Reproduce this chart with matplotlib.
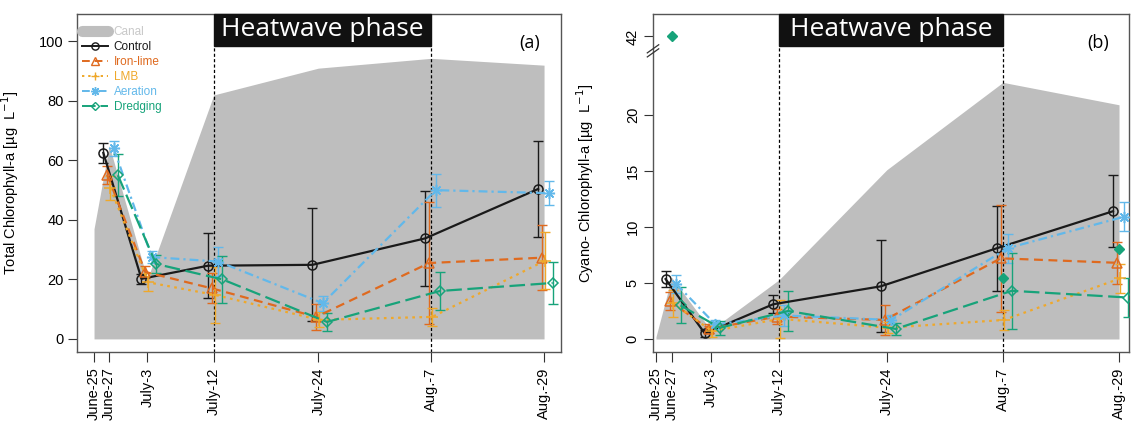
import numpy as np
import matplotlib
matplotlib.use("Agg")
import matplotlib.pyplot as plt
from matplotlib.lines import Line2D
from matplotlib.patches import Rectangle
import matplotlib.transforms as mtransforms

plt.rcParams['font.family'] = ['Liberation Sans', 'DejaVu Sans']

# sampling dates and their positions on the x axis
date_labels = ["June-25", "June-27", "July-3", "July-12", "July-24", "Aug.-7", "Aug.-29"]
date_pos = [0, 2.2, 7.7, 17.3, 32.4, 48.7, 65]

# canal (background) values at every date
canal_total = [37, 65, 20, 82, 91, 94.3, 92]
canal_cyano = [0.2, 5.5, 0.8, 5.3, 15.1, 22.9, 20.9]

# treatments are sampled from June-27 on (dates 1..6)
series = ["Control", "Iron-lime", "LMB", "Aeration", "Dredging"]

total_mean = {
    "Control":   [62.5, 20.2, 24.6, 24.9, 33.8, 50.4],
    "Iron-lime": [55.2, 22.5, 17.0, 7.4, 25.5, 27.3],
    "LMB":       [50.7, 19.0, 14.8, 6.4, 7.4, 26.3],
    "Aeration":  [64.0, 27.5, 26.0, 12.0, 50.0, 49.0],
    "Dredging":  [55.0, 25.2, 20.0, 5.7, 16.1, 18.8],
}
total_err = {
    "Control":   [3.5, 1.7, 11.0, 19.0, 16.0, 16.0],
    "Iron-lime": [3.0, 2.0, 5.0, 4.5, 20.5, 11.0],
    "LMB":       [4.0, 3.0, 9.5, 2.5, 3.0, 9.5],
    "Aeration":  [2.5, 2.0, 4.8, 2.5, 5.5, 4.0],
    "Dredging":  [7.0, 3.0, 8.0, 3.0, 6.5, 7.0],
}
cyano_mean = {
    "Control":   [5.35, 0.5, 3.1, 4.7, 8.1, 11.4],
    "Iron-lime": [3.4, 0.9, 2.0, 1.7, 7.2, 6.8],
    "LMB":       [3.2, 0.7, 1.8, 1.0, 1.7, 5.4],
    "Aeration":  [4.9, 1.3, 2.1, 1.7, 8.1, 10.9],
    "Dredging":  [3.0, 1.0, 2.5, 0.9, 4.3, 3.7],
}
cyano_err = {
    "Control":   [0.7, 0.3, 0.8, 4.1, 3.8, 3.2],
    "Iron-lime": [0.8, 0.4, 0.7, 1.3, 4.8, 1.9],
    "LMB":       [1.2, 0.5, 1.7, 0.5, 0.9, 1.3],
    "Aeration":  [0.8, 0.4, 0.9, 0.4, 1.3, 1.3],
    "Dredging":  [1.6, 0.6, 1.8, 0.5, 3.4, 1.7],
}
# single dredging replicates drawn as filled diamonds (cyano panel)
dredge_pts_idx = [1, 5, 6]
dredge_pts_val = [42, 5.4, 8.0]

colors = {"Control": "#1a1a1a", "Iron-lime": "#DF6A1F", "LMB": "#EFA82A",
          "Aeration": "#62B8EA", "Dredging": "#17A37A"}
styles = {"Control": "-", "Iron-lime": (0, (4, 2.5)), "LMB": (0, (1.2, 2)),
          "Aeration": (0, (4, 1.8, 1, 1.8)), "Dredging": (0, (7, 2.5))}
markers = {"Control": "o", "Iron-lime": "^", "LMB": "+", "Aeration": (8, 2, 0),
           "Dredging": "D"}
msizes = {"Control": 6.5, "Iron-lime": 6.5, "LMB": 8, "Aeration": 8, "Dredging": 5.5}
dodge = {"Control": -0.85, "Iron-lime": -0.3, "LMB": 0.15, "Aeration": 0.65, "Dredging": 1.25}
canal_gray = "#BEBEBE"


def squash(v):
    # broken y axis on the cyano panel: values above the break are compressed
    v = np.asarray(v, dtype=float)
    return np.where(v > 25, 27 + (v - 42) * 0.1, v)


fig = plt.figure(figsize=(11.32, 4.25), dpi=100)
ax1 = fig.add_axes([77 / 1132, 73 / 425, 484 / 1132, 338 / 425])
ax2 = fig.add_axes([653 / 1132, 73 / 425, 476 / 1132, 338 / 425])


def draw_panel(ax, canal, means, errs, ylim, xlim, tag):
    ax.fill_between(date_pos, canal, 0, color=canal_gray, lw=0, zorder=1)
    trans = mtransforms.blended_transform_factory(ax.transData, ax.transAxes)
    box_bottom = (352 - 46) / 338
    for d in (date_pos[3], date_pos[5]):
        ax.plot([d, d], [0, box_bottom], transform=trans, color="black",
                lw=0.9, ls=(0, (2.5, 1.8)), zorder=2)
    ax.add_patch(Rectangle((date_pos[3], box_bottom), date_pos[5] - date_pos[3],
                           1 - box_bottom, transform=trans, color="#111111",
                           zorder=5, clip_on=False))
    ax.text((date_pos[3] + date_pos[5]) / 2, (box_bottom + 1) / 2, "Heatwave phase",
            transform=trans, color="white", ha="center", va="center",
            fontsize=19, family="Open Sans", zorder=6)
    ax.text(0.935, 0.915, tag, transform=ax.transAxes, fontsize=13,
            family="Open Sans", ha="center", va="center")
    xs_base = np.array(date_pos[1:])
    for s in series:
        xs = xs_base + dodge[s]
        ax.errorbar(xs, means[s], yerr=errs[s], fmt="none", ecolor=colors[s],
                    elinewidth=1.0, capsize=3.5, capthick=1.0, zorder=3)
        ax.plot(xs, means[s], color=colors[s], ls=styles[s], lw=1.6,
                marker=markers[s], ms=msizes[s], mfc="none", mec=colors[s],
                mew=1.1, zorder=4)
    ax.set_xlim(xlim)
    ax.set_ylim(ylim)
    ax.set_xticks(date_pos)
    ax.set_xticklabels(date_labels, rotation=90, fontsize=10.5)
    ax.tick_params(axis="x", length=7, pad=4, color="#333333")
    ax.tick_params(axis="y", length=6.5, pad=3, color="#333333", labelsize=10.5)
    for sp in ax.spines.values():
        sp.set_color("#555555")
        sp.set_linewidth(1.0)


draw_panel(ax1, canal_total, total_mean, total_err, (-4.4, 109.2), (-2.46, 67.45), "(a)")
ax1.set_yticks([0, 20, 40, 60, 80, 100])
ax1.set_ylabel("Total Chlorophyll-a [µg  L$^{-1}$]", fontsize=10.5)
ax1.yaxis.set_label_coords(-0.115, 0.5)

draw_panel(ax2, canal_cyano, cyano_mean, cyano_err, (-1.16, 29.0), (-0.42, 66.4), "(b)")
ax2.plot([date_pos[i] for i in dredge_pts_idx], squash(dredge_pts_val), ls="none",
         marker="D", ms=5, color=colors["Dredging"], zorder=4)
ax2.set_yticks([0, 5, 10, 15, 20, float(squash(42))])
ax2.set_yticklabels(["0", "5", "10", "15", "20", "42"], rotation=90, va="center")
ax2.set_ylabel("Cyano- Chlorophyll-a [µg  L$^{-1}$]", fontsize=10.5)
ax2.yaxis.set_label_coords(-0.12, 0.5)
# break marks on the left spine
for dy in (0.0, 0.012):
    ax2.plot([-0.012, 0.012], [0.885 + dy - 0.012, 0.885 + dy + 0.012],
             transform=ax2.transAxes, color="#333333", lw=0.9, clip_on=False, zorder=7)

handles = [Line2D([], [], color=canal_gray, lw=8, solid_capstyle="round")]
for s in series:
    handles.append(Line2D([], [], color=colors[s], ls=styles[s], lw=1.4,
                          marker=markers[s], ms=msizes[s] * 0.8, mfc="none",
                          mec=colors[s], mew=1.0))
leg = ax1.legend(handles, ["Canal"] + series, loc="upper left", frameon=False,
                 fontsize=8.5, handlelength=2.2, handletextpad=0.5,
                 labelspacing=0.26, borderaxespad=0.0, borderpad=0.0,
                 bbox_to_anchor=(0.01, 0.965),
                 labelcolor=["#C8C8C8"] + [colors[s] for s in series])
leg.set_zorder(8)

fig.savefig("out.png", dpi=100)
